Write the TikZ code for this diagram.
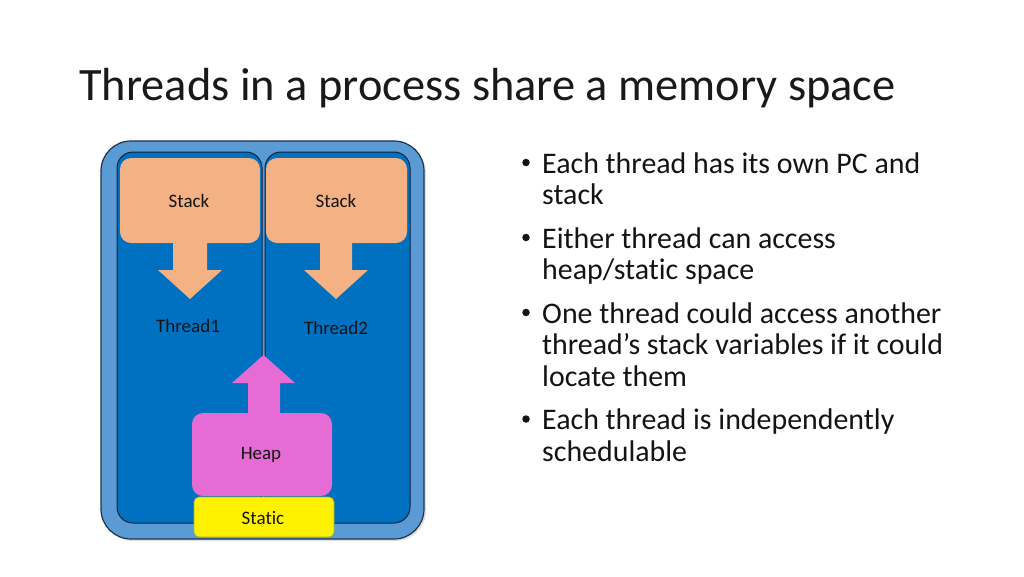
\documentclass[tikz,border=0pt]{standalone}
\usepackage{fontspec}
\setmainfont{Carlito}[Ligatures=NoCommon]
\begin{document}
\begin{tikzpicture}[x=1pt,y=-1pt,
  outerbox/.style={draw={rgb,255:red,30;green,50;blue,80},line width=1.2pt,fill={rgb,255:red,91;green,155;blue,213},rounded corners=30pt},
  threadbox/.style={draw={rgb,255:red,20;green,35;blue,60},line width=1pt,fill={rgb,255:red,0;green,112;blue,192},rounded corners=16pt},
  stackbox/.style={fill={rgb,255:red,244;green,177;blue,131},rounded corners=11pt},
  heapbox/.style={fill={rgb,255:red,228;green,108;blue,212},rounded corners=11pt},
  staticbox/.style={fill=yellow,draw={rgb,255:red,160;green,175;blue,60},line width=0.6pt,rounded corners=5pt},
  lbl/.style={font=\fontsize{19}{22}\selectfont,text={rgb,255:red,20;green,20;blue,20},inner sep=0pt},
  bul/.style={font=\fontsize{29.9}{34}\selectfont,anchor=base west,inner sep=0pt,text={rgb,255:red,20;green,20;blue,20}},
  dot/.style={circle,fill={rgb,255:red,20;green,20;blue,20},inner sep=0pt,minimum size=7.5pt},
  stackarrow/.style={fill={rgb,255:red,244;green,177;blue,131}},
  heaparrow/.style={fill={rgb,255:red,228;green,108;blue,212}}
]
\useasboundingbox (0,0) rectangle (1024,576);
\fill[white] (0,0) rectangle (1024,576);
% title
\node[anchor=base west,inner sep=0pt,font=\fontsize{46.4}{52}\selectfont,text={rgb,255:red,25;green,25;blue,25}] (title) at (79,100) {Threads in a process share a memory space};
% outer process box
\fill[black!12,rounded corners=30pt] (103,143) rectangle (426,541);
\draw[outerbox] (101,141) rectangle (424,539);
\draw[threadbox] (117,152) rectangle (262,523);
\draw[threadbox] (265,152) rectangle (410,523);
\node[stackbox,minimum width=140pt,minimum height=85pt,inner sep=0pt] (s1) at (190,200.5) {};
\node[stackbox,minimum width=141pt,minimum height=85pt,inner sep=0pt] (s2) at (336.5,200.5) {};
\node[lbl] (s1l) at (189,201) {Stack};
\node[lbl] (s2l) at (336,201) {Stack};
% down arrows
\fill[stackarrow] (173,242) -- (207,242) -- (207,270) -- (222,270) -- (190,299) -- (158,270) -- (173,270) -- cycle;
\fill[stackarrow] (320,242) -- (352,242) -- (352,270) -- (368,270) -- (336,299) -- (304,270) -- (320,270) -- cycle;
\node[lbl] (t1) at (188,326) {Thread1};
\node[lbl] (t2) at (336,328) {Thread2};
% heap
\node[heapbox,minimum width=140pt,minimum height=83pt,inner sep=0pt] (heap) at (262,454.5) {};
\node[lbl] (heapl) at (261,455) {Heap};
\fill[heaparrow] (248,414) -- (248,383) -- (232,383) -- (263.5,355) -- (295,383) -- (280,383) -- (280,414) -- cycle;
\node[staticbox,minimum width=140pt,minimum height=40pt,inner sep=0pt] (static) at (264,517) {};
\node[lbl] (staticl) at (263,518) {Static};
% bullets
\node[dot] (b1) at (526,162.5) {};
\node[bul] (l1) at (542,173) {Each thread has its own PC and};
\node[bul] (l2) at (542,204.5) {stack};
\node[dot] (b2) at (526,237.5) {};
\node[bul] (l3) at (542,248) {Either thread can access};
\node[bul] (l4) at (542,279.5) {heap/static space};
\node[dot] (b3) at (526,312.5) {};
\node[bul] (l5) at (542,323) {One thread could access another};
\node[bul] (l6) at (542,354.5) {thread’s stack variables if it could};
\node[bul] (l7) at (542,386) {locate them};
\node[dot] (b4) at (526,419) {};
\node[bul] (l8) at (542,429.5) {Each thread is independently};
\node[bul] (l9) at (542,461) {schedulable};
\end{tikzpicture}
\end{document}
